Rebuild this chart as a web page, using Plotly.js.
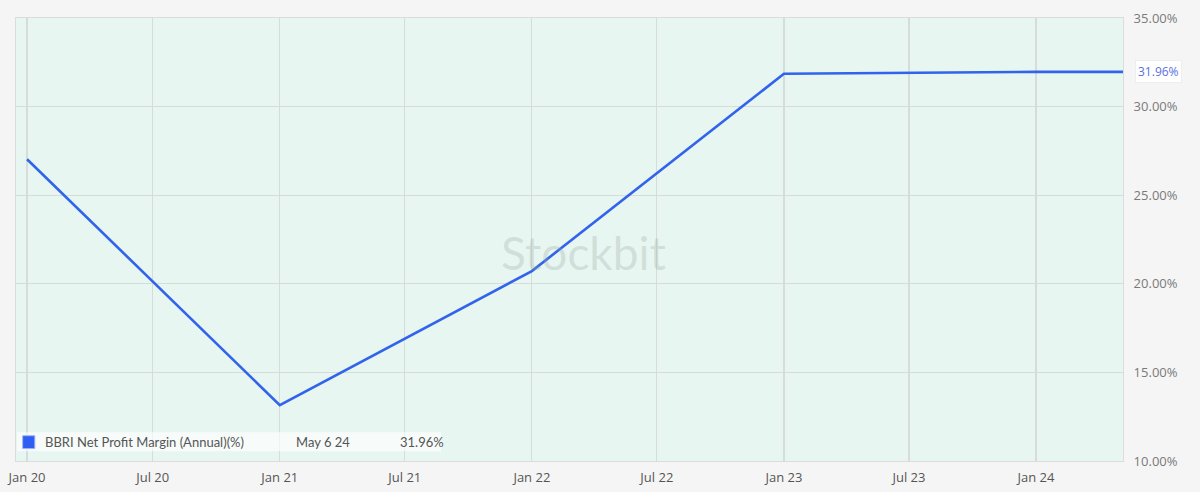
<!DOCTYPE html>
<html>
<head>
<meta charset="utf-8">
<script src="https://cdn.plot.ly/plotly-3.0.1.min.js"></script>
<style>
html,body{margin:0;padding:0;background:#f5f5f5;}
#chart{width:1200px;height:492px;}
</style>
</head>
<body>
<div id="chart"></div>
<script>
var dates = ["2020-01-01", "2021-01-01", "2022-01-01", "2023-01-01", "2024-01-01", "2024-05-06"];
var margins = [27.03, 13.15, 20.72, 31.85, 31.96, 31.96];
var tickDates = ["2020-01-01","2020-07-01","2021-01-01","2021-07-01","2022-01-01","2022-07-01","2023-01-01","2023-07-01","2024-01-01"];
var tickLabels = ["Jan 20","Jul 20","Jan 21","Jul 21","Jan 22","Jul 22","Jan 23","Jul 23","Jan 24"];
var yTicks = [10, 15, 20, 25, 30, 35];
var yTickLabels = ["10.00%", "15.00%", "20.00%", "25.00%", "30.00%", "35.00%"];
var seriesName = "BBRI Net Profit Margin (Annual)(%)";
var lastDateLabel = "May 6 24";
var lastValue = margins[margins.length - 1];

var trace = {
  x: dates, y: margins, type: 'scatter', mode: 'lines',
  line: {color: '#3163ec', width: 2.6},
  hoverinfo: 'skip', showlegend: false
};

var layout = {
  width: 1200, height: 492,
  paper_bgcolor: '#f5f5f5',
  plot_bgcolor: '#e7f6f1',
  margin: {l: 16, r: 77, t: 18, b: 31},
  font: {family: '"Open Sans", sans-serif', color: '#666'},
  xaxis: {
    type: 'date',
    range: ['2019-12-16', '2024-05-06'],
    tickmode: 'array', tickvals: tickDates, ticktext: tickLabels,
    showgrid: true, gridcolor: '#d6dcd9', gridwidth: 1.2,
    zeroline: false, showline: true, linecolor: '#dcdcdc', mirror: true,
    ticks: '', ticklabelstandoff: 4,
    tickfont: {size: 13, color: '#555'}
  },
  yaxis: {
    side: 'right',
    range: [10, 35],
    tickmode: 'array', tickvals: yTicks, ticktext: yTickLabels,
    showgrid: true, gridcolor: '#d6dcd9', gridwidth: 1.2,
    zeroline: false, showline: true, linecolor: '#dcdcdc', mirror: true,
    ticks: '', ticklabelstandoff: 7,
    tickfont: {size: 13, color: '#7a7a7a'}
  },
  shapes: [
    {type: 'rect', xref: 'paper', yref: 'paper', x0: 0.001, x1: 0.384, y0: 0.022, y1: 0.065,
     fillcolor: 'rgba(255,255,255,0.65)', line: {width: 0}, layer: 'above'},
    {type: 'rect', xref: 'paper', yref: 'paper', x0: 0.006, x1: 0.017, y0: 0.028, y1: 0.057,
     fillcolor: '#2f5ef2', line: {color: '#9fb4f7', width: 1}, layer: 'above'}
  ],
  annotations: [
    {xref: 'paper', yref: 'paper', x: 0.024, y: 0.043, xanchor: 'left', yanchor: 'middle',
     text: seriesName, showarrow: false, font: {size: 13, color: '#555', family: 'Lato, sans-serif'}},
    {xref: 'paper', yref: 'paper', x: 0.251, y: 0.043, xanchor: 'left', yanchor: 'middle',
     text: lastDateLabel, showarrow: false, font: {size: 13, color: '#555', family: 'Lato, sans-serif'}},
    {xref: 'paper', yref: 'paper', x: 0.345, y: 0.043, xanchor: 'left', yanchor: 'middle',
     text: lastValue.toFixed(2) + '%', showarrow: false, font: {size: 13, color: '#555', family: 'Lato, sans-serif'}},
    {xref: 'paper', yref: 'y', x: 1.011, y: lastValue, xanchor: 'left', yanchor: 'middle',
     text: lastValue.toFixed(2) + '%', showarrow: false, bgcolor: '#ffffff',
     bordercolor: '#eeeeee', borderwidth: 1, borderpad: 2,
     font: {size: 12, color: '#5b6fe0'}},
    {xref: 'paper', yref: 'paper', x: 0.513, y: 0.47, xanchor: 'center', yanchor: 'middle',
     text: 'Stockbit', showarrow: false,
     font: {size: 46, color: 'rgba(150,165,158,0.28)', family: 'Lato, sans-serif'}}
  ]
};

Plotly.newPlot('chart', [trace], layout, {displayModeBar: false, staticPlot: true});
</script>
</body>
</html>
